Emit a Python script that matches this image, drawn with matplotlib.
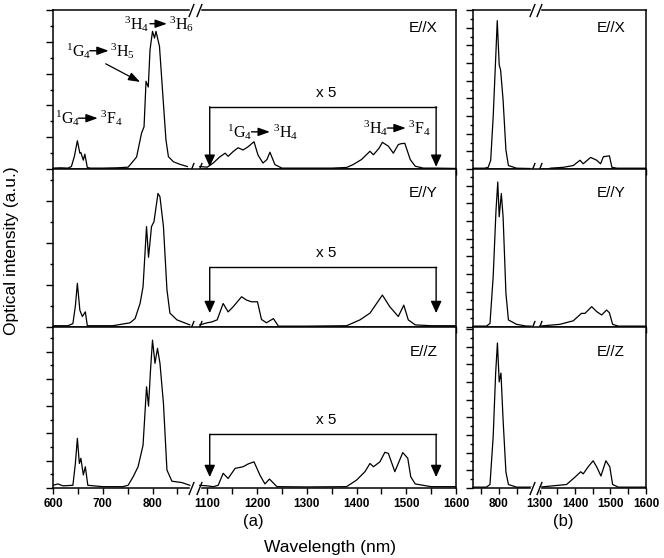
import numpy as np
import matplotlib
matplotlib.use('Agg')
import matplotlib.pyplot as plt
from matplotlib.path import Path
from matplotlib.ticker import FixedLocator, MultipleLocator, NullFormatter

plt.rcParams['font.family'] = ['Liberation Sans', 'DejaVu Sans']
plt.rcParams['mathtext.fontset'] = 'custom'
plt.rcParams['mathtext.rm'] = 'Liberation Serif'
plt.rcParams['mathtext.it'] = 'Liberation Serif:italic'

# ---- data (wavelength in nm, intensity in tick units) ----
# panel (a), visible band 600-880 nm
ax_vis_wl = [600, 615, 630, 637, 643, 649, 654, 656, 661, 664, 669, 675, 700, 730, 751, 758, 768, 778,
             783, 787, 791.5, 795, 800, 804, 807, 814, 820, 827, 832, 842, 855, 870]
ax_vis_int = [0.03, 0.04, 0.03, 0.08, 0.4, 0.89, 0.5, 0.52, 0.28, 0.47, 0.05, 0.03, 0.03, 0.04, 0.06, 0.19,
              0.38, 1.13, 1.33, 2.76, 2.58, 3.75, 4.33, 4.12, 4.33, 3.86, 2.5, 0.92, 0.39, 0.23, 0.15, 0.08]
ay_vis_wl = [600, 630, 640, 645, 649, 654, 659, 665, 669, 680, 720, 755, 765, 775, 781, 788, 792, 798,
             803, 811, 815, 822, 829, 835, 849, 875]
ay_vis_int = [0.03, 0.03, 0.08, 0.5, 1.04, 0.4, 0.25, 0.36, 0.03, 0.03, 0.03, 0.1, 0.2, 0.56, 0.96, 2.39,
              1.66, 2.39, 2.51, 3.18, 3.1, 2.39, 0.89, 0.33, 0.17, 0.05]
az_vis_wl = [600, 610, 620, 640, 645, 649, 653, 656, 661, 665, 670, 700, 740, 751, 761, 771, 781, 788,
             792, 796, 800, 805, 810, 815, 822, 829, 839, 859, 875]
az_vis_int = [0.1, 0.15, 0.08, 0.1, 0.9, 1.82, 0.9, 1.09, 0.48, 0.78, 0.1, 0.05, 0.05, 0.1, 0.41, 0.78,
              1.57, 3.71, 3.0, 4.32, 5.42, 4.57, 5.12, 4.57, 3.1, 0.66, 0.25, 0.2, 0.1]

# panel (a), infrared band (x 5)
ax_ir_wl = [1085, 1100, 1112, 1125, 1136, 1142, 1152, 1162, 1172, 1182, 1194, 1202, 1212, 1220, 1226, 1236,
            1250, 1300, 1350, 1380, 1393, 1410, 1427, 1434, 1445, 1452, 1464, 1474, 1484, 1490, 1497, 1508,
            1518, 1534, 1560, 1600]
ax_ir_int = [0.08, 0.06, 0.19, 0.38, 0.5, 0.4, 0.55, 0.67, 0.6, 0.7, 0.86, 0.44, 0.19, 0.3, 0.53, 0.14,
             0.03, 0.03, 0.03, 0.05, 0.14, 0.3, 0.56, 0.45, 0.65, 0.84, 0.72, 0.5, 0.77, 0.8, 0.81, 0.3,
             0.09, 0.03, 0.03, 0.02]
ay_ir_wl = [1085, 1100, 1109, 1120, 1132, 1142, 1152, 1169, 1179, 1189, 1201, 1209, 1219, 1233, 1243, 1300,
            1380, 1407, 1427, 1452, 1467, 1484, 1495, 1504, 1518, 1550, 1600]
ay_ir_int = [0.05, 0.1, 0.12, 0.17, 0.56, 0.36, 0.48, 0.72, 0.64, 0.6, 0.6, 0.18, 0.1, 0.2, 0.02, 0.02,
             0.03, 0.17, 0.33, 0.76, 0.48, 0.25, 0.52, 0.17, 0.05, 0.03, 0.03]
az_ir_wl = [1085, 1100, 1112, 1122, 1132, 1142, 1156, 1172, 1182, 1194, 1206, 1216, 1225, 1240, 1300, 1380,
            1400, 1417, 1427, 1434, 1447, 1457, 1464, 1477, 1493, 1503, 1509, 1518, 1550, 1600]
az_ir_int = [0.1, 0.08, 0.05, 0.1, 0.54, 0.35, 0.72, 0.78, 0.88, 0.96, 0.47, 0.15, 0.33, 0.05, 0.04, 0.05,
             0.29, 0.6, 0.9, 0.78, 0.96, 1.31, 1.27, 0.6, 1.3, 1.09, 0.41, 0.15, 0.05, 0.05]

# panel (b), same spectra without magnification
bx_vis_wl = [727, 760, 770, 777, 784, 792, 795.5, 801, 805, 812, 820, 827, 850, 890]
bx_vis_int = [0.05, 0.05, 0.1, 0.5, 2.95, 6.7, 8.4, 5.9, 5.6, 3.9, 1.07, 0.2, 0.05, 0.03]
bx_ir_wl = [1330, 1367, 1395, 1414, 1423, 1444, 1461, 1472, 1480, 1497, 1504, 1518, 1560, 1600]
bx_ir_int = [0.05, 0.1, 0.2, 0.5, 0.3, 0.66, 0.5, 0.3, 0.7, 0.75, 0.1, 0.05, 0.05, 0.05]
by_vis_wl = [727, 765, 775, 784, 792, 797, 801, 807, 812, 820, 827, 850, 878, 892]
by_vis_int = [0.05, 0.05, 0.2, 2.84, 6.6, 8.2, 6.23, 7.55, 6.23, 1.9, 0.4, 0.15, 0.05, 0.05]
by_ir_wl = [1300, 1357, 1395, 1418, 1428, 1447, 1461, 1475, 1489, 1497, 1506, 1522, 1560, 1600]
by_ir_int = [0.05, 0.15, 0.35, 0.77, 0.77, 1.15, 0.87, 0.68, 0.96, 0.8, 0.15, 0.05, 0.05, 0.05]
bz_vis_wl = [727, 765, 775, 784, 791, 796, 801, 806, 812, 820, 827, 850, 892]
bz_vis_int = [0.05, 0.05, 0.2, 2.9, 6.5, 8.2, 6.0, 6.5, 3.84, 0.9, 0.2, 0.05, 0.05]
bz_ir_wl = [1300, 1376, 1399, 1416, 1423, 1437, 1451, 1461, 1473, 1487, 1498, 1506, 1522, 1560, 1600]
bz_ir_int = [0.05, 0.2, 0.6, 0.92, 0.8, 1.2, 1.54, 1.2, 0.68, 1.54, 1.2, 0.2, 0.05, 0.05, 0.05]

pol_labels = ['E//X', 'E//Y', 'E//Z']
a_ticks = [600, 700, 800, 1100, 1200, 1300, 1400, 1500, 1600]
a_minor = [650, 750, 850, 1150, 1250, 1350, 1450, 1550]
b_ticks = [800, 1300, 1400, 1500, 1600]
b_minor = [750, 850, 1350, 1450, 1550]


# broken x axis: squeeze [lo, hi] into a small gap
def make_break(lo, hi, gap):
    def fwd(x):
        x = np.asarray(x, float)
        return np.where(x < lo, x, np.where(x > hi, x - (hi - lo) + gap, lo + (x - lo) * gap / (hi - lo)))

    def inv(y):
        y = np.asarray(y, float)
        return np.where(y < lo, y, np.where(y > lo + gap, y + (hi - lo) - gap, lo + (y - lo) * (hi - lo) / gap))
    return fwd, inv


slash = Path([(-0.4, -1), (0.4, 1)], [Path.MOVETO, Path.LINETO])


def draw_break(ax, x1, x2, y):
    tr = ax.get_xaxis_transform()
    ax.plot([x1, x2], [y, y], color='white', lw=2.5, transform=tr, clip_on=False, zorder=4)
    ax.plot([x1, x2], [y, y], ls='none', marker=slash, ms=9.5, mec='k', mew=1.0,
            transform=tr, clip_on=False, zorder=5)


def bracket(ax, x1, x2, ytop, ytip, xt, yt):
    ax.plot([x1, x2], [ytop, ytop], color='k', lw=1.0)
    for x in (x1, x2):
        ax.annotate('', xy=(x, ytip), xytext=(x, ytop),
                    arrowprops=dict(arrowstyle='-|>,head_length=0.6,head_width=0.27', color='k', lw=1.0,
                                    mutation_scale=12, shrinkA=0, shrinkB=0))
    ax.text(xt, yt, 'x 5', ha='center', va='center', fontsize=11)


def transition(ax, x0, xa1, xa2, x1, y, left, right):
    ax.text(x0, y, left, ha='left', va='center', fontsize=11.5)
    ax.text(x1, y, right, ha='left', va='center', fontsize=11.5)
    ax.annotate('', xy=(xa2, y), xytext=(xa1, y),
                arrowprops=dict(arrowstyle='-|>,head_length=0.7,head_width=0.25', color='k', lw=1.0,
                                mutation_scale=10, shrinkA=0, shrinkB=0))


fig = plt.figure(figsize=(6.64, 5.58), dpi=100)

rows_y = [(0.697, 0.285), (0.414, 0.283), (0.1254, 0.2885)]
a_ylim = [5.0, 3.76, 5.9]
b_ylim = [9.0, 8.93, 9.1]
a_vis = [(ax_vis_wl, ax_vis_int), (ay_vis_wl, ay_vis_int), (az_vis_wl, az_vis_int)]
a_ir = [(ax_ir_wl, ax_ir_int), (ay_ir_wl, ay_ir_int), (az_ir_wl, az_ir_int)]
b_vis = [(bx_vis_wl, bx_vis_int), (by_vis_wl, by_vis_int), (bz_vis_wl, bz_vis_int)]
b_ir = [(bx_ir_wl, bx_ir_int), (by_ir_wl, by_ir_int), (bz_ir_wl, bz_ir_int)]
# bracket: top level, arrow tip, "x 5" height
brackets = [(1.96, 0.07, 2.4), (1.42, 0.33, 1.76), (1.97, 0.4, 2.49)]
label_y = [0.887, 0.85, 0.845]

fa = make_break(880, 1080, 10)
fb = make_break(895, 1290, 10)

for i in range(3):
    bottom, height = rows_y[i]
    axa = fig.add_axes([0.0798, bottom, 0.607, height])
    axb = fig.add_axes([0.7123, bottom, 0.2605, height])

    # panel (a)
    axa.set_xscale('function', functions=fa)
    axa.plot(a_vis[i][0], a_vis[i][1], color='k', lw=0.9)
    axa.plot(a_ir[i][0], a_ir[i][1], color='k', lw=0.9)
    axa.set_xlim(600, 1600)
    axa.set_ylim(0, a_ylim[i])
    axa.xaxis.set_major_locator(FixedLocator(a_ticks))
    axa.xaxis.set_minor_locator(FixedLocator(a_minor))
    axa.set_xticklabels([str(t) for t in a_ticks])
    axa.yaxis.set_major_locator(MultipleLocator(1))
    axa.yaxis.set_minor_locator(MultipleLocator(0.5))
    axa.yaxis.set_major_formatter(NullFormatter())
    axa.text(0.955, label_y[i], pol_labels[i], transform=axa.transAxes, ha='right', va='center', fontsize=11)
    ytop, ytip, yt = brackets[i]
    bracket(axa, 1105, 1560, ytop, ytip, 1340, yt)

    # panel (b)
    axb.set_xscale('function', functions=fb)
    axb.plot(b_vis[i][0], b_vis[i][1], color='k', lw=0.9)
    axb.plot(b_ir[i][0], b_ir[i][1], color='k', lw=0.9)
    axb.set_xlim(727, 1600)
    axb.set_ylim(0, b_ylim[i])
    axb.xaxis.set_major_locator(FixedLocator(b_ticks))
    axb.xaxis.set_minor_locator(FixedLocator(b_minor))
    axb.set_xticklabels([str(t) for t in b_ticks])
    axb.yaxis.set_major_locator(MultipleLocator(1))
    axb.yaxis.set_minor_locator(MultipleLocator(0.5))
    axb.yaxis.set_major_formatter(NullFormatter())
    axb.text(0.88, label_y[i], pol_labels[i], transform=axb.transAxes, ha='right', va='center', fontsize=11)

    for ax in (axa, axb):
        for sp in ax.spines.values():
            sp.set_linewidth(1.1)
        ax.tick_params(which='both', direction='out', width=1.0)
        ax.tick_params(axis='y', which='major', length=5)
        ax.tick_params(axis='y', which='minor', length=2.5)
        ax.tick_params(axis='x', which='both', length=4)
        if i < 2:
            ax.tick_params(axis='x', labelbottom=False)
        else:
            for lab in ax.get_xticklabels():
                lab.set_fontweight('bold')
                lab.set_fontsize(8.5)

    draw_break(axa, 878, 1083, 0)
    draw_break(axb, 893, 1297, 0)
    if i == 0:
        draw_break(axa, 878, 1083, 1)
        draw_break(axb, 893, 1297, 1)
        # transition labels
        transition(axa, 605, 651, 690, 694, 1.6, r'$\mathrm{^{1}G_{4}}$', r'$\mathrm{^{3}F_{4}}$')
        transition(axa, 627, 674, 712, 715, 3.72, r'$\mathrm{^{1}G_{4}}$', r'$\mathrm{^{3}H_{5}}$')
        transition(axa, 743, 795, 829, 833, 4.57, r'$\mathrm{^{3}H_{4}}$', r'$\mathrm{^{3}H_{6}}$')
        transition(axa, 1139, 1189, 1226, 1232, 1.17, r'$\mathrm{^{1}G_{4}}$', r'$\mathrm{^{3}H_{4}}$')
        transition(axa, 1413, 1462, 1499, 1503, 1.29, r'$\mathrm{^{3}H_{4}}$', r'$\mathrm{^{3}F_{4}}$')
        axa.annotate('', xy=(775, 2.74), xytext=(706, 3.31),
                     arrowprops=dict(arrowstyle='-|>,head_length=0.7,head_width=0.25', color='k', lw=0.9,
                                     mutation_scale=10, shrinkA=0, shrinkB=0))

fig.text(0.381, 0.066, '(a)', ha='center', va='center', fontsize=12)
fig.text(0.848, 0.066, '(b)', ha='center', va='center', fontsize=12)
fig.text(0.497, 0.018, 'Wavelength (nm)', ha='center', va='center', fontsize=12.5)
fig.text(0.018, 0.55, 'Optical intensity (a.u.)', ha='center', va='center', rotation=90, fontsize=12.5)

plt.savefig('out.png', dpi=100)
